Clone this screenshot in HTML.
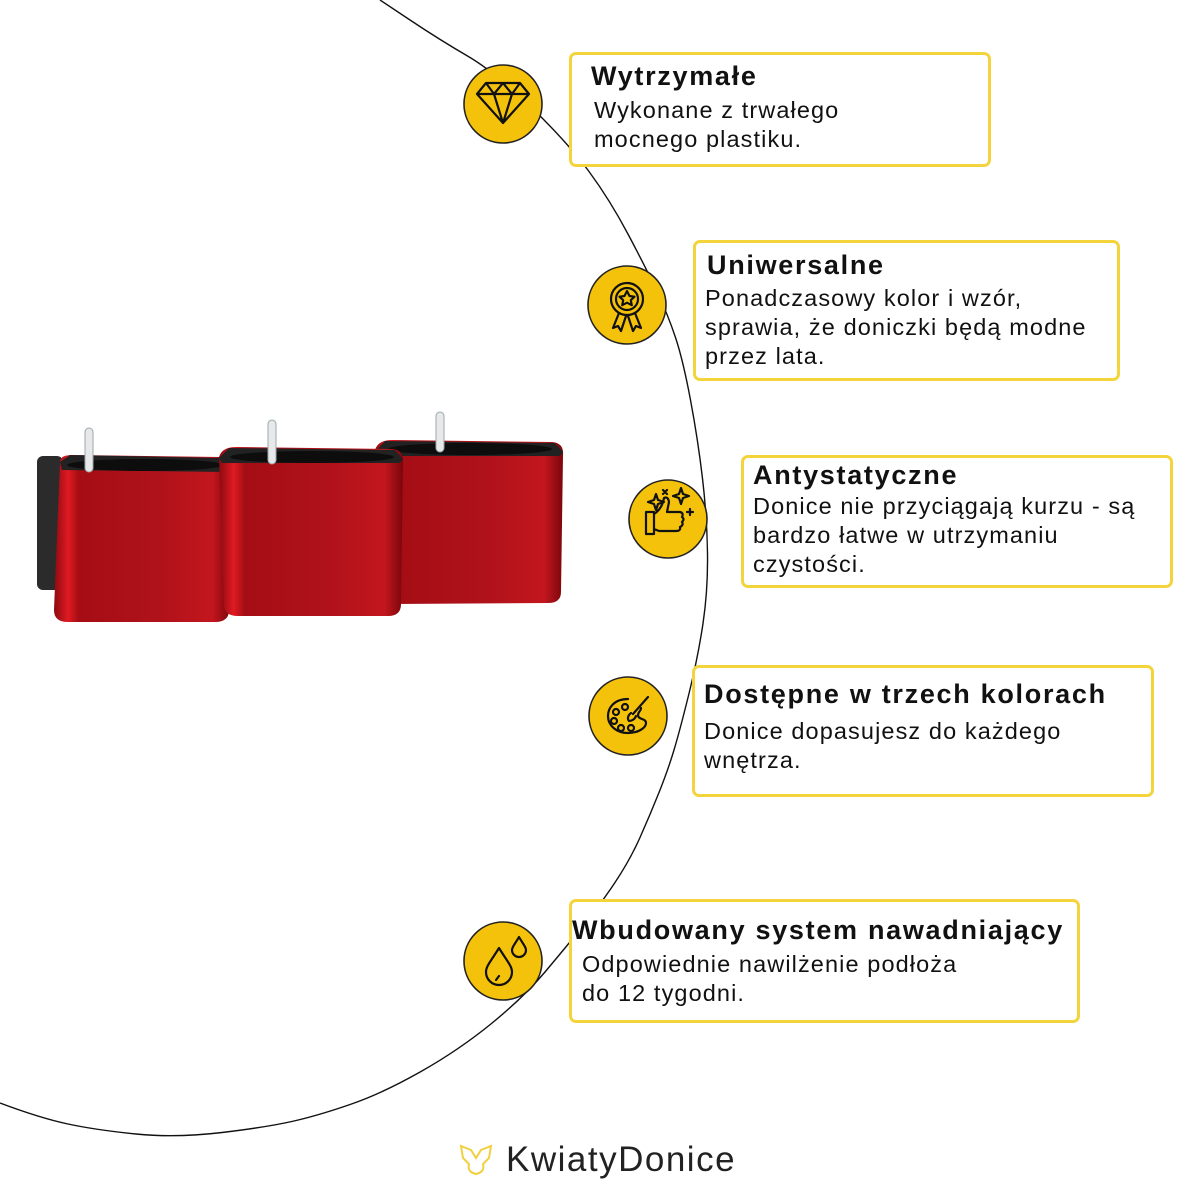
<!DOCTYPE html>
<html><head><meta charset="utf-8">
<style>
body{margin:0;width:1200px;height:1200px;background:#fff;position:relative;overflow:hidden;font-family:"Liberation Sans",sans-serif;color:#111}
.box{position:absolute;border:3px solid #F3D43C;border-radius:7px;background:#fff;box-sizing:border-box}
.t{position:absolute;font-weight:bold;font-size:27px;letter-spacing:1.7px;white-space:nowrap;line-height:30px}
.b{position:absolute;font-size:23.5px;letter-spacing:1.1px;line-height:29px;white-space:nowrap}
svg{position:absolute;left:0;top:0}
</style></head><body>
<svg width="1200" height="1200" viewBox="0 0 1200 1200">
<path fill="none" stroke="#111" stroke-width="1.4" d="M380,0 L410,20 Q440,40 467.5,56 Q495,72 531.5,107.5 Q568,143 589,171.5 Q610,200 628.5,235 Q647,270 657.5,292.5 Q668,315 675.5,337.5 Q683,360 690.5,400 Q698,440 702.5,478.5 Q707,517 707.5,553.5 Q708,590 703,623.5 Q698,657 689,693.5 Q680,730 674,750 Q668,770 659,792.5 Q650,815 640,837.5 Q630,860 615,882.5 Q600,905 583,926 Q566,947 545,972 Q524,997 491.5,1023.5 Q459,1050 421,1071.5 Q383,1093 351.5,1104 Q320,1115 294,1121 Q268,1127 222,1132.5 Q176,1138 136,1134 Q96,1130 68,1124 Q40,1118 0,1103"/>
<defs>
<linearGradient id="rg" x1="0" x2="1" y1="0" y2="0">
<stop offset="0" stop-color="#8c0a10"/><stop offset="0.08" stop-color="#e01a22"/><stop offset="0.14" stop-color="#a50d14"/><stop offset="0.6" stop-color="#b0121a"/><stop offset="0.9" stop-color="#c3161e"/><stop offset="1" stop-color="#7a060b"/>
</linearGradient>
</defs>
<rect x="37" y="456" width="26" height="134" rx="6" fill="#2b2b2b"/>
<g>
<path d="M60,462 Q60,455 72,455 L220,457 Q232,458 230,470 L229,610 Q229,622 215,622 L68,622 Q54,622 54,610 Z" fill="url(#rg)"/>
<path d="M60,462 L70,455 L222,458 L230,468 L228,472 L62,470 Z" fill="#222"/>
<ellipse cx="145" cy="465" rx="78" ry="6" fill="#0d0d0d"/>
</g>
<g>
<path d="M375,450 Q378,440 392,440 L552,442 Q564,443 563,455 L561,592 Q561,603 548,603 L392,604 Q378,604 378,592 Z" fill="url(#rg)"/>
<path d="M375,452 L385,441 L555,443 L563,452 L560,456 L378,456 Z" fill="#222"/>
<ellipse cx="470" cy="449" rx="82" ry="6" fill="#0d0d0d"/>
</g>
<g>
<path d="M219,457 Q222,447 236,447 L392,449 Q404,450 403,462 L401,604 Q401,616 388,616 L238,616 Q224,616 224,604 Z" fill="url(#rg)"/>
<path d="M219,458 L229,448 L395,450 L403,459 L400,463 L222,463 Z" fill="#222"/>
<ellipse cx="312" cy="457" rx="82" ry="6" fill="#0d0d0d"/>
</g>
<g fill="#e8e8ea" stroke="#9aa" stroke-width="1">
<rect x="85" y="428" width="8" height="44" rx="4"/>
<rect x="268" y="420" width="8" height="44" rx="4"/>
<rect x="436" y="412" width="8" height="40" rx="4"/>
</g>
<g fill="#F5C20B" stroke="#222" stroke-width="1.6">
<circle cx="503" cy="104" r="39"/>
<circle cx="627" cy="305" r="39"/>
<circle cx="668" cy="519" r="39"/>
<circle cx="628" cy="716" r="39"/>
<circle cx="503" cy="961" r="39"/>
</g>
<g fill="none" stroke="#111" stroke-width="2.2" stroke-linejoin="round" stroke-linecap="round">
<path d="M477,94 L486,83 L520,83 L529,94 L503,123 Z M477,94 L529,94 M486,83 L494,94 L503,83 L512,94 L520,83 M494,94 L503,123 L512,94"/>
<circle cx="627" cy="299" r="16"/><circle cx="627" cy="299" r="11"/>
<path d="M627,291 l2.5,5 5,.7 -3.7,3.5 1,5 -4.8,-2.5 -4.8,2.5 1,-5 -3.7,-3.5 5,-.7z"/>
<path d="M619,313 l-6,15 5,-2 3,5 5,-15 M635,313 l6,15 -5,-2 -3,5 -5,-15"/>
<path d="M646,512 h8 v22 h-8 z M654,514 q8,-5 10,-16 q4,-2 5,4 l-2,10 h13 q4,1 2,5 q3,2 0,5 q2,3 -2,5 q1,4 -4,4 h-17 l-5,-2"/>
<path d="M654,500 l2,-6 2,6 6,2 -6,2 -2,6 -2,-6 -6,-2z M679,494 l2,-6 2,6 6,2 -6,2 -2,6 -2,-6 -6,-2z M663,490 l4,4 m0,-4 l-4,4 M687,512 h6 m-3,-3 v6"/>
<path d="M628,699 c-14,0 -20,9 -20,17 c0,10 9,17 20,17 c10,0 18,-5 18,-10 c0,-5 -8,-3 -8,-8 c0,-3 3,-4 3,-7"/>
<circle cx="616" cy="712" r="3"/><circle cx="625" cy="707" r="3"/><circle cx="614" cy="721" r="3"/><circle cx="621" cy="728" r="3"/><circle cx="631" cy="728" r="3"/>
<path d="M648,697 l-15,17 M631,713 c-3,2 -4,6 -2,8 c3,0 6,-2 7,-5"/>
<path d="M499,948 c-8,13 -13,18 -13,24 a13,13 0 0 0 26,0 c0,-6 -5,-11 -13,-24z M499,976 l-3,4"/>
<path d="M519,937 c-4,7 -7,10 -7,13 a7,7 0 0 0 14,0 c0,-3 -3,-6 -7,-13z"/>
</g>
<g fill="none" stroke="#F0D040" stroke-width="2">
<path d="M461,1146 l10,4 5,8 5,-8 10,-4 -2,12 -6,6 q2,8 -7,10 q-9,-2 -7,-10 l-6,-6z"/>
</g>
<text x="506" y="1171" font-family="Liberation Sans,sans-serif" font-size="35" fill="#222" letter-spacing="1.5">KwiatyDonice</text>
</svg>

<div class="box" style="left:569px;top:52px;width:422px;height:115px"></div>
<div class="t" style="left:591px;top:61px">Wytrzymałe</div>
<div class="b" style="left:594px;top:96px">Wykonane z trwałego<br>mocnego plastiku.</div>

<div class="box" style="left:693px;top:240px;width:427px;height:141px"></div>
<div class="t" style="left:707px;top:250px">Uniwersalne</div>
<div class="b" style="left:705px;top:284px">Ponadczasowy kolor i wzór,<br>sprawia, że doniczki będą modne<br>przez lata.</div>

<div class="box" style="left:741px;top:455px;width:432px;height:133px"></div>
<div class="t" style="left:753px;top:460px">Antystatyczne</div>
<div class="b" style="left:753px;top:492px">Donice nie przyciągają kurzu - są<br>bardzo łatwe w utrzymaniu<br>czystości.</div>

<div class="box" style="left:692px;top:665px;width:462px;height:132px"></div>
<div class="t" style="left:704px;top:679px">Dostępne w trzech kolorach</div>
<div class="b" style="left:704px;top:717px">Donice dopasujesz do każdego<br>wnętrza.</div>

<div class="box" style="left:569px;top:899px;width:511px;height:124px"></div>
<div class="t" style="left:572px;top:915px">Wbudowany system nawadniający</div>
<div class="b" style="left:582px;top:950px">Odpowiednie nawilżenie podłoża<br>do 12 tygodni.</div>
</body></html>
